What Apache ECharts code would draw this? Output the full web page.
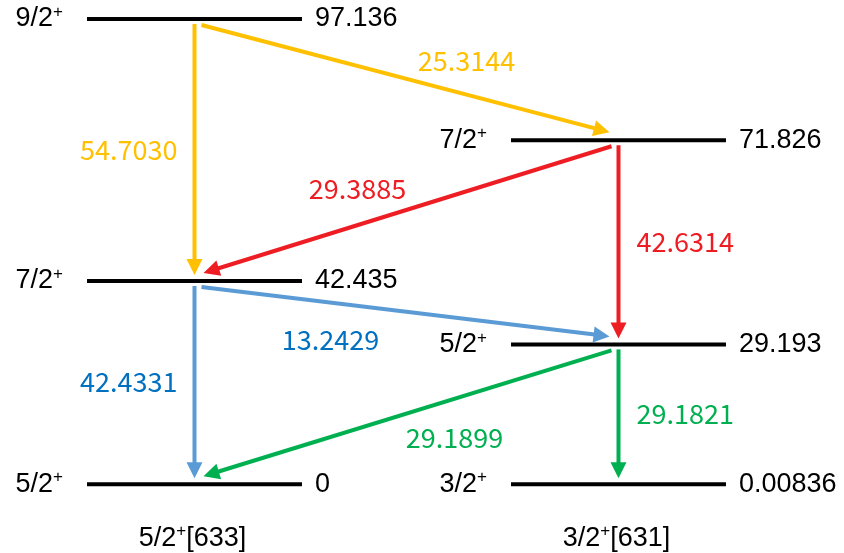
<!DOCTYPE html>
<html>
<head>
<meta charset="utf-8">
<script src="https://cdn.jsdelivr.net/npm/echarts@6/dist/echarts.min.js"></script>
<style>
  html, body { margin: 0; padding: 0; background: #ffffff; }
  #chart { width: 844px; height: 553px; }
</style>
</head>
<body>
<div id="chart"></div>
<script>
// Rotational bands (spin and Nilsson label)
const bandSpin = ['5/2', '3/2'];
const bandNilsson = ['[633]', '[631]'];

// Levels: band index, spin, excitation energy (keV)
const levelBand = [0, 0, 0, 1, 1, 1];
const levelSpin = ['9/2', '7/2', '5/2', '7/2', '5/2', '3/2'];
const levelEnergy = [97.136, 42.435, 0, 71.826, 29.193, 0.00836];

// Gamma transitions: initial level, final level, gamma energy (keV)
const gammaFrom = [0, 0, 3, 3, 1, 1, 4, 4];
const gammaTo = [3, 1, 1, 4, 4, 2, 2, 5];
const gammaEnergy = [25.3144, 54.7030, 29.3885, 42.6314, 13.2429, 42.4331, 29.1899, 29.1821];

// ---- styling ----
const ORANGE = '#FFC000', RED = '#EE1D23', BLUE_LINE = '#5B9BD5', BLUE_TEXT = '#0070C0', GREEN = '#00B050';
const gammaLineColor = [ORANGE, ORANGE, RED, RED, BLUE_LINE, BLUE_LINE, GREEN, GREEN];
const gammaTextColor = [ORANGE, ORANGE, RED, RED, BLUE_TEXT, BLUE_TEXT, GREEN, GREEN];
// label shift (px) from the middle of each cross-band arrow
const crossLabelShift = { 0: [61, -18], 2: [-50, -21], 4: [-75, 28], 6: [47, 24] };

const HALF = 0.2535;           // half length of a level line, in band units
const SANS = 'Liberation Sans, Arial, sans-serif';
const NUM_FONT = '"Noto Sans CJK KR", "Noto Sans", sans-serif';

const spinRich = {
  m: { fontSize: 27, fontFamily: SANS, fill: '#000', lineHeight: 30 },
  s: { fontSize: 17, fontFamily: SANS, fill: '#000', lineHeight: 14, verticalAlign: 'top' }
};

const chart = echarts.init(document.getElementById('chart'));

function renderLevel(params, api) {
  const i = api.value(2);
  const a = api.coord([api.value(0) - HALF, api.value(1)]);
  const b = api.coord([api.value(0) + HALF, api.value(1)]);
  return {
    type: 'group',
    children: [
      { type: 'line', shape: { x1: a[0], y1: a[1], x2: b[0], y2: b[1] },
        style: { stroke: '#000', lineWidth: 4 } },
      { type: 'text', x: a[0] - 24, y: a[1],
        style: { text: '{m|' + levelSpin[i] + '}{s|+}', rich: spinRich, align: 'right', verticalAlign: 'middle' } },
      { type: 'text', x: b[0] + 13, y: a[1],
        style: { text: String(levelEnergy[i]), fill: '#000', fontSize: 27, fontFamily: SANS,
                 align: 'left', verticalAlign: 'middle' } }
    ]
  };
}

function renderBand(params, api) {
  const i = api.value(0);
  const p = api.coord([i, 0]);
  return {
    type: 'text', x: p[0] - 2, y: p[1] + 54,
    style: { text: '{m|' + bandSpin[i] + '}{s|+}{m|' + bandNilsson[i] + '}', rich: spinRich,
             align: 'center', verticalAlign: 'middle' }
  };
}

function renderGamma(params, api) {
  const k = api.value(4);
  const fb = api.value(0), tb = api.value(2);
  const p = api.coord([fb, api.value(1)]);
  const q = api.coord([tb, api.value(3)]);
  let x1 = p[0], y1 = p[1] + 5, x2 = q[0], y2 = q[1] - 6;
  if (fb !== tb) {
    const dir = tb > fb ? 1 : -1;
    x1 += dir * 7; x2 -= dir * 9; y1 += 1; y2 -= 2;
  }
  const dx = x2 - x1, dy = y2 - y1, len = Math.sqrt(dx * dx + dy * dy);
  const ux = dx / len, uy = dy / len, nx = -uy, ny = ux;
  const headL = 16, headW = 8;
  const bx = x2 - ux * headL, by = y2 - uy * headL;
  const color = gammaLineColor[k];
  const mx = (x1 + x2) / 2, my = (y1 + y2) / 2;

  let label;
  const txt = gammaEnergy[k].toFixed(4);
  const tStyle = { text: txt, fill: gammaTextColor[k], fontSize: 27, fontFamily: NUM_FONT, verticalAlign: 'middle' };
  if (fb === tb) {
    if (fb === 0) { label = { type: 'text', x: x1 - 17, y: my, style: Object.assign(tStyle, { align: 'right' }) }; }
    else { label = { type: 'text', x: x1 + 18, y: my, style: Object.assign(tStyle, { align: 'left' }) }; }
  } else {
    const s = crossLabelShift[k];
    label = { type: 'text', x: mx + s[0], y: my + s[1], style: Object.assign(tStyle, { align: 'center' }) };
  }

  return {
    type: 'group',
    children: [
      { type: 'line', shape: { x1: x1, y1: y1, x2: bx + ux * 1, y2: by + uy * 1 },
        style: { stroke: color, lineWidth: 4 } },
      { type: 'polygon', shape: { points: [[x2, y2], [bx + nx * headW, by + ny * headW], [bx - nx * headW, by - ny * headW]] },
        style: { fill: color } },
      label
    ]
  };
}

chart.setOption({
  animation: false,
  backgroundColor: '#ffffff',
  grid: { left: 0, right: 0, top: 5.3, bottom: 68.8 },
  xAxis: { type: 'value', min: -194.5 / 424, max: 649.5 / 424, show: false },
  yAxis: { type: 'value', min: 0, max: 100, show: false },
  series: [
    {
      type: 'custom', name: 'gammas', clip: false, z: 2,
      data: gammaFrom.map((f, k) => [levelBand[f], levelEnergy[f], levelBand[gammaTo[k]], levelEnergy[gammaTo[k]], k]),
      renderItem: renderGamma
    },
    {
      type: 'custom', name: 'levels', clip: false, z: 3,
      data: levelBand.map((b, i) => [b, levelEnergy[i], i]),
      renderItem: renderLevel
    },
    {
      type: 'custom', name: 'bands', clip: false, z: 3,
      data: bandSpin.map((s, i) => [i]),
      renderItem: renderBand
    }
  ]
});
</script>
</body>
</html>
